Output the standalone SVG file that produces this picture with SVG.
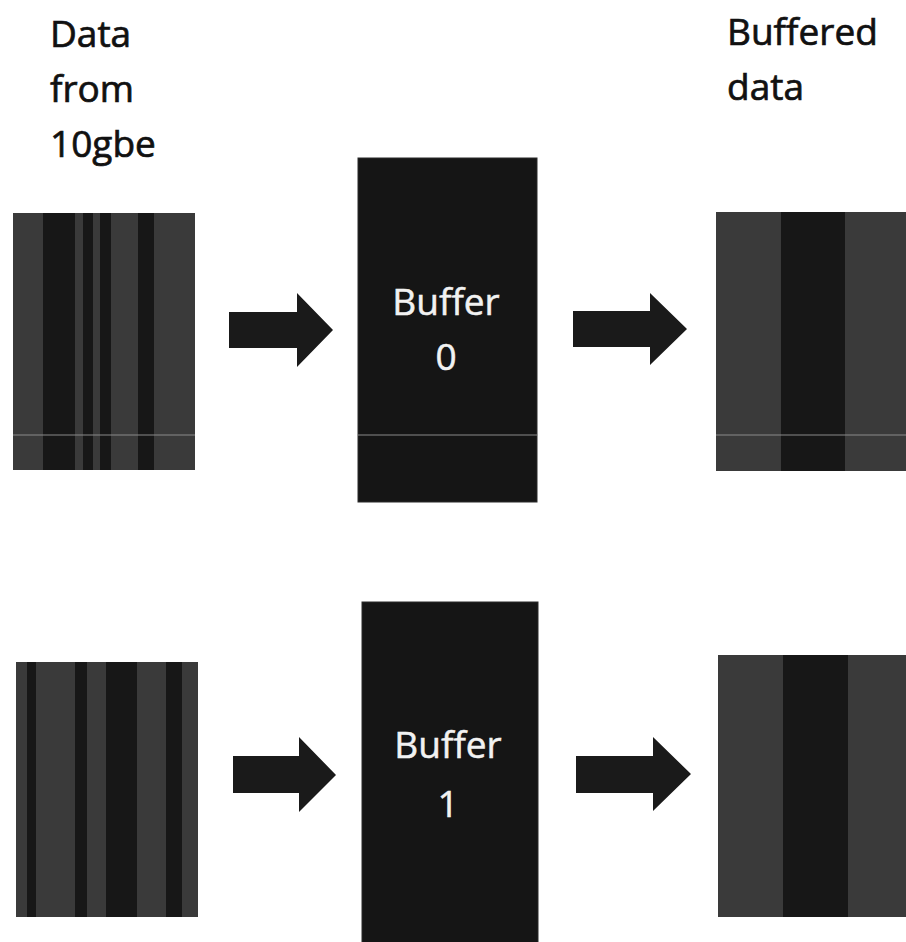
<svg xmlns="http://www.w3.org/2000/svg" width="906" height="942" viewBox="0 0 906 942">
  <style>
    .label { font-family: "Open Sans", "Liberation Sans", sans-serif; font-size: 37px; fill: #111; stroke: #111; stroke-width: 0.7; }
    .buf-text { font-family: "Open Sans", "Liberation Sans", sans-serif; font-size: 37px; fill: #f2f2f2; stroke: #f2f2f2; stroke-width: 0.5; text-anchor: middle; }
    .light { fill: #3a3a3a; }
    .dark { fill: #171717; }
    .buffer { fill: #151515; stroke: #2a2a2a; stroke-width: 1; }
    .seam { stroke: #8a8a8a; stroke-width: 1.2; }
    .arrow { fill: #1a1a1a; }
  </style>

  <rect width="906" height="942" fill="#ffffff"/>

  <!-- Column headings -->
  <g id="heading-input">
    <text class="label" x="50" y="47">Data</text>
    <text class="label" x="50" y="102">from</text>
    <text class="label" x="50" y="157">10gbe</text>
  </g>
  <g id="heading-output">
    <text class="label" x="727" y="45">Buffered</text>
    <text class="label" x="727" y="100">data</text>
  </g>

  <!-- Incoming packet stream, row 0 -->
  <g id="input-0">
    <rect class="light" x="13" y="213" width="182" height="257"/>
    <rect class="dark" x="43" y="213" width="32" height="257"/>
    <rect class="dark" x="83" y="213" width="10" height="257"/>
    <rect class="dark" x="100" y="213" width="11" height="257"/>
    <rect class="dark" x="138" y="213" width="16" height="257"/>
    <line class="seam" x1="13" y1="435" x2="195" y2="435"/>
  </g>

  <!-- Incoming packet stream, row 1 -->
  <g id="input-1">
    <rect class="light" x="16" y="662" width="182" height="255"/>
    <rect class="dark" x="27" y="662" width="9" height="255"/>
    <rect class="dark" x="75" y="662" width="12" height="255"/>
    <rect class="dark" x="106" y="662" width="31" height="255"/>
    <rect class="dark" x="166" y="662" width="16" height="255"/>
  </g>

  <!-- Buffers -->
  <g id="buffer-0">
    <rect class="buffer" x="358" y="158" width="179" height="344"/>
    <line class="seam" x1="358" y1="435" x2="537" y2="435"/>
    <text class="buf-text" x="446" y="315">Buffer</text>
    <text class="buf-text" x="446" y="370">0</text>
  </g>
  <g id="buffer-1">
    <rect class="buffer" x="362" y="602" width="176" height="345"/>
    <text class="buf-text" x="448" y="758">Buffer</text>
    <text class="buf-text" x="448" y="817">1</text>
  </g>

  <!-- Buffered output blocks -->
  <g id="output-0">
    <rect class="light" x="716" y="212" width="195" height="259"/>
    <rect class="dark" x="781" y="212" width="64" height="259"/>
    <line class="seam" x1="716" y1="435" x2="906" y2="435"/>
  </g>
  <g id="output-1">
    <rect class="light" x="718" y="655" width="193" height="262"/>
    <rect class="dark" x="783" y="655" width="65" height="262"/>
  </g>

  <!-- Flow arrows -->
  <g id="connectors">
    <path class="arrow" d="M229 312 H297 V293 L333 330 L297 367 V348 H229 Z"/>
    <path class="arrow" d="M573 311 H650 V293 L687 329 L650 365 V347 H573 Z"/>
    <path class="arrow" d="M233 756 H299 V737 L336 775 L299 812 V793 H233 Z"/>
    <path class="arrow" d="M576 756 H653 V737 L691 774 L653 811 V793 H576 Z"/>
  </g>
</svg>
